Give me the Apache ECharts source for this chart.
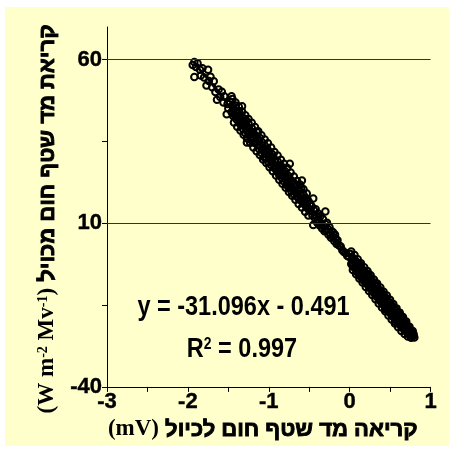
<!DOCTYPE html>
<html><head><meta charset="utf-8">
<script src="https://cdn.jsdelivr.net/npm/echarts@6/dist/echarts.min.js"></script>
<style>html,body{margin:0;padding:0;background:#fff;width:449px;height:456px;overflow:hidden}
#chart{position:absolute;left:5px;top:7px;width:444px;height:439px;}</style>
</head><body><div id="chart"></div><script>
const pointX = [
-1.94,-1.92,-1.92,-1.90,-1.88,-1.85,-1.84,-1.82,-1.80,-1.77,-1.75,-1.74,-1.72,-1.70,-1.68,-1.66,-1.64,-1.62,-1.60,-1.58,-1.56,-1.55,-1.52,-1.51,-1.50,
-1.48,-1.46,-1.46,-1.45,-1.44,-1.43,-1.42,-1.41,-1.40,-1.39,-1.38,-1.37,-1.36,-1.35,-1.34,
-1.33,-1.33,-1.32,-1.31,-1.30,-1.29,-1.28,-1.27,-1.27,-1.26,
-1.25,-1.24,-1.23,-1.22,-1.21,-1.20,-1.19,-1.18,-1.17,-1.16,-1.15,-1.14,-1.13,-1.12,-1.11,-1.10,-1.09,-1.08,-1.07,-1.06,-1.05,-1.04,-1.03,-1.02,-1.01,-1.00,
-0.99,-0.98,-0.97,-0.96,-0.95,-0.94,-0.93,-0.92,-0.91,-0.90,-0.89,-0.88,-0.87,-0.86,-0.85,-0.84,-0.83,-0.82,-0.81,-0.80,-0.79,-0.78,-0.77,-0.76,-0.75,
-0.74,-0.74,
-0.73,-0.72,-0.71,-0.70,-0.69,-0.68,-0.67,-0.66,-0.65,-0.64,-0.63,-0.62,-0.61,-0.60,-0.59,-0.58,-0.57,-0.56,-0.55,-0.54,-0.53,-0.52,-0.51,-0.50,
-0.49,-0.48,-0.47,-0.46,-0.45,-0.45,-0.44,-0.43,-0.42,-0.41,-0.40,-0.39,-0.38,-0.37,-0.36,-0.35,-0.34,-0.33,-0.32,-0.31,-0.30,-0.30,
-0.29,-0.28,-0.27,-0.26,-0.25,-0.24,-0.23,-0.22,-0.21,-0.20,-0.19,-0.18,-0.17,-0.16,-0.15,-0.13,-0.11,-0.09,-0.07,-0.05,-0.03,-0.01,
0.01,0.02,0.03,0.04,0.05,0.06,0.07,0.08,0.09,0.10,
0.11,0.12,0.13,0.14,0.15,0.16,0.17,0.18,0.19,0.20,
0.21,0.22,0.23,0.24,0.25,0.26,0.27,0.28,0.29,0.30,
0.31,0.32,0.33,0.34,0.35,0.36,0.37,0.38,0.39,0.40,
0.41,0.42,0.43,0.44,0.45,0.46,0.47,0.48,0.49,0.50,
0.51,0.52,0.53,0.54,0.55,0.56,0.57,0.58,0.59,0.60,
0.61,0.62,0.63,0.64,0.65,0.66,0.67,0.68,0.69,0.70,
0.71,0.72,0.73,0.74,0.75,0.76,0.77,0.78,0.79,0.80,
0.035,0.065,0.085,0.115,0.145,0.175,0.205,0.235,0.265,0.295,0.325,0.355,0.385,0.415,0.445,0.475,0.505,0.535,0.565,0.595,0.625,0.655,0.685,0.715,0.745,0.765,0.785,
-1.45,-1.43,-1.41,-1.39,-1.37,-1.35,-1.33,-1.31,-1.29,-1.27,-1.25,-1.23,-1.21,-1.19,-1.17,-1.15,-1.13,-1.11,-1.09,-1.07,-1.05,-1.03,-1.01,-0.99,
-0.97,-0.95,-0.93,-0.91,-0.89,-0.87,-0.85,-0.83,-0.81,-0.79,-0.77,-0.75,-0.73,-0.71,-0.69,-0.67,-0.65,-0.63,-0.61,-0.59,-0.57,-0.55,-0.53,-0.51,
0.02,0.04,0.06,0.08,0.10,0.12,0.14,0.16,0.18,0.20,0.22,0.24,0.26,0.28,0.30,0.32,0.34,0.36,0.38,0.40,
0.42,0.44,0.46,0.48,0.50,0.52,0.54,0.56,0.58,0.60,0.62,0.64,0.66,0.68,0.70,0.72,0.74,0.76,0.78,0.79,
-1.44,-1.40,-1.36,-1.32,-1.28,-1.24,-1.20,-1.16,-1.12,-1.08,-1.04,-1.00,-0.96,-0.92,-0.88,-0.84,-0.80,-0.76,-0.72,-0.68,-0.64,-0.60,-0.56,-0.52,
0.03,0.07,0.11,0.15,0.19,0.23,0.27,0.31,0.35,0.39,0.43,0.47,0.51,0.55,0.59,0.63,0.67,0.71,0.75,0.77
];
const pointY = [
58.4,59.3,54.7,57.8,58.9,56.9,55.2,57.4,54.6,52.1,56.9,53.5,54.8,51.6,53.4,50.1,47.8,50.9,48.6,50.2,46.9,48.8,43.3,46.5,45.1,
47.2,48.8,44.0,45.9,42.8,44.7,43.1,46.0,41.8,43.9,42.2,44.3,40.5,42.6,39.9,
45.8,41.3,38.9,42.1,40.2,37.6,41.5,34.7,39.0,37.8,
40.6,36.9,38.4,35.5,39.1,36.3,37.8,34.6,36.9,35.1,38.0,33.9,35.6,32.8,36.1,33.4,31.5,34.7,32.6,30.3,33.8,31.4,29.8,32.9,30.7,28.6,
31.9,29.5,27.8,31.2,28.4,30.1,26.9,29.3,27.1,25.8,28.9,26.5,24.7,27.6,25.2,23.9,27.1,24.6,22.8,25.9,23.4,21.7,24.8,22.5,20.9,
28.2,23.6,
21.4,19.8,22.9,20.6,18.9,22.1,19.5,21.3,18.2,20.4,17.6,19.9,17.1,20.8,23.1,16.4,18.7,15.8,17.9,15.3,17.2,14.6,16.8,14.2,
16.0,13.8,15.2,12.4,17.6,9.5,13.9,11.6,14.3,12.1,10.2,13.0,11.1,9.3,12.2,10.0,8.4,11.3,9.1,7.6,13.6,9.8,
7.9,10.2,8.3,6.5,8.9,6.9,5.6,7.6,5.9,7.1,4.6,6.5,5.2,3.7,4.8,3.2,2.9,1.8,1.2,0.9,0.1,-0.2,
0.6,-2.4,-0.3,-3.1,-0.9,-3.6,-1.5,-4.2,-2.0,-5.1,
-2.6,-5.8,-2.7,-6.4,-3.9,-6.9,-4.5,-7.6,-4.9,-8.2,
-5.6,-8.7,-6.3,-9.4,-6.8,-10.1,-7.0,-10.6,-8.0,-11.3,
-8.7,-11.9,-9.2,-12.5,-9.9,-13.1,-10.4,-13.8,-11.0,-14.3,
-11.6,-15.0,-12.2,-16.3,-12.9,-16.2,-13.5,-16.8,-14.1,-17.4,
-14.8,-18.0,-15.3,-18.6,-16.0,-20.1,-16.6,-19.8,-17.2,-20.4,
-17.9,-21.0,-18.1,-21.6,-19.2,-22.1,-19.9,-22.6,-20.5,-23.0,
-21.2,-23.5,-21.9,-23.9,-22.6,-24.2,-23.1,-24.5,-23.8,-24.9,
-2.0,-1.2,-3.5,-4.9,-3.6,-6.2,-7.4,-5.4,-9.0,-10.2,-8.4,-12.0,-11.8,-14.1,-13.3,-15.9,-16.3,-17.2,-18.1,-19.0,-20.2,-20.0,-21.8,-22.4,-22.9,-23.6,-24.0,
48.0,40.8,46.9,39.5,45.6,38.4,44.2,37.1,43.0,36.0,41.9,34.6,40.7,33.2,39.4,32.0,38.1,30.9,36.9,29.5,35.6,28.4,34.5,27.1,
33.2,25.9,31.8,24.6,30.7,23.3,29.4,22.1,28.2,20.9,26.9,19.6,25.5,18.4,24.3,17.2,22.9,15.9,21.8,14.8,20.4,13.5,19.1,12.4,
1.4,-4.3,0.3,-5.6,-1.0,-6.9,-2.2,-8.1,-3.4,-9.5,-4.6,-10.7,-5.9,-11.9,-7.2,-13.2,-8.4,-14.5,-9.6,-15.7,
-10.9,-16.9,-12.1,-18.2,-13.4,-19.4,-14.7,-20.6,-16.0,-21.8,-17.3,-22.9,-18.6,-23.8,-20.0,-24.6,-21.6,-25.0,-22.9,-24.3,
44.9,42.4,42.5,40.0,40.1,37.3,37.6,34.9,35.2,32.4,32.7,29.9,30.1,27.5,27.7,24.8,25.2,22.4,22.6,19.9,20.1,17.5,17.6,15.0,
-1.0,-3.2,-3.4,-5.8,-5.9,-8.2,-8.3,-10.8,-10.7,-13.3,-13.2,-15.8,-15.7,-18.2,-18.3,-20.7,-20.8,-23.1,-23.3,-24.0
];
const fitX = [-1.93, 0.80];
const fitY = [59.5, -25.4];
const xTickValues = [-3,-2.5,-2,-1.5,-1,-0.5,0,0.5,1];
const xLabelValues = [-3,-2,-1,0,1];
const yTickValues = [-40,-15,10,35,60];
const yLabelValues = [-40,10,60];
const gridLineValues = [60,10];
const equationText = 'y = -31.096x - 0.491';
const r2Text = ' = 0.997';
const xTitleLatin = '(mV)';
const xTitleHeb = 'קריאה מד שטף חום לכיול';
const yTitleHeb = 'קריאת מד שטף חום מכויל';

const points = pointX.map((x, i) => [x, pointY[i]]);
const fitLine = fitX.map((x, i) => [x, fitY[i]]);
const SANS = '"Liberation Sans", Arial, "DejaVu Sans", sans-serif';
const SERIF = '"Liberation Serif", "Times New Roman", serif';
const heb = {fontFamily: SANS, fontWeight: 'bold', fontSize: 22, color: '#000', textBorderColor: '#000', textBorderWidth: 0.9};

const chart = echarts.init(document.getElementById('chart'), null, {renderer: 'canvas'});
chart.setOption({
  backgroundColor: '#FFFFCC',
  animation: false,
  grid: {left: 102, right: 18.5, top: 20, bottom: 55.3},
  xAxis: {
    type: 'value', min: -3, max: 1, interval: 0.5,
    axisLine: {show: true, onZero: false, lineStyle: {color: '#000', width: 1}},
    axisTick: {show: true, length: 5, customValues: xTickValues, lineStyle: {color: '#000'}},
    axisLabel: {customValues: xLabelValues, color: '#000', fontFamily: SANS, fontWeight: 'bold', fontSize: 22, margin: 4,
      textBorderColor: '#000', textBorderWidth: 0.4,
      formatter: v => xLabelValues.includes(v) ? String(v) : ''},
    splitLine: {show: false},
    name: '{l|' + xTitleLatin + '} {h|' + xTitleHeb + '}',
    nameLocation: 'middle', nameGap: 29,
    nameTextStyle: {color: '#000', fontFamily: SANS, fontWeight: 'bold', fontSize: 22, padding: [0, 12, 0, 0],
      rich: {
        l: {fontFamily: SERIF, fontWeight: 'bold', fontSize: 23, color: '#000'},
        h: heb
      }}
  },
  yAxis: {
    type: 'value', min: -40, max: 70, interval: 25,
    axisLine: {show: true, onZero: false, lineStyle: {color: '#000', width: 1}},
    axisTick: {show: true, length: 5, customValues: yTickValues, lineStyle: {color: '#000'}},
    axisLabel: {customValues: yLabelValues, color: '#000', fontFamily: SANS, fontWeight: 'bold', fontSize: 22, margin: 5,
      textBorderColor: '#000', textBorderWidth: 0.4,
      formatter: v => yLabelValues.includes(v) ? String(v) : ''},
    splitLine: {show: false},
    name: '{l|(W m}{sup|-2}{l| Mv}{sup|-1}{l|)} {h|' + yTitleHeb + '}',
    nameLocation: 'middle', nameGap: 48, nameRotate: 90,
    nameTextStyle: {color: '#000', fontFamily: SANS, fontWeight: 'bold', fontSize: 22, padding: [0, 24, 0, 0],
      rich: {
        l: {fontFamily: SERIF, fontWeight: 'bold', fontSize: 23, color: '#000'},
        sup: {fontFamily: SERIF, fontWeight: 'bold', fontSize: 14, color: '#000', verticalAlign: 'top'},
        h: heb
      }}
  },
  series: [
    {
      type: 'scatter', data: points, symbol: 'circle', symbolSize: 6.5,
      itemStyle: {color: 'rgba(0,0,0,0)', borderColor: '#000', borderWidth: 2, opacity: 1},
      z: 3,
      markLine: {silent: true, symbol: 'none', label: {show: false}, animation: false,
        lineStyle: {color: '#333', width: 1.2, type: 'solid'},
        data: gridLineValues.map(v => ({yAxis: v}))}
    },
    {
      type: 'line', data: fitLine, symbol: 'none', z: 4,
      lineStyle: {color: '#000', width: 2}
    }
  ],
  graphic: [
    {type: 'text', x: 238.5, y: 301, scaleX: 0.87,
      style: {text: equationText, font: 'bold 27px ' + SANS, fill: '#000', textAlign: 'center', textVerticalAlign: 'middle'}},
    {type: 'text', x: 237, y: 343, scaleX: 0.87,
      style: {text: '{a|R}{s|2}{a|' + r2Text + '}', fill: '#000', textAlign: 'center', textVerticalAlign: 'middle',
        rich: {a: {font: 'bold 27px ' + SANS, fill: '#000'}, s: {font: 'bold 16px ' + SANS, fill: '#000', verticalAlign: 'top'}}}}
  ]
});
</script></body></html>
